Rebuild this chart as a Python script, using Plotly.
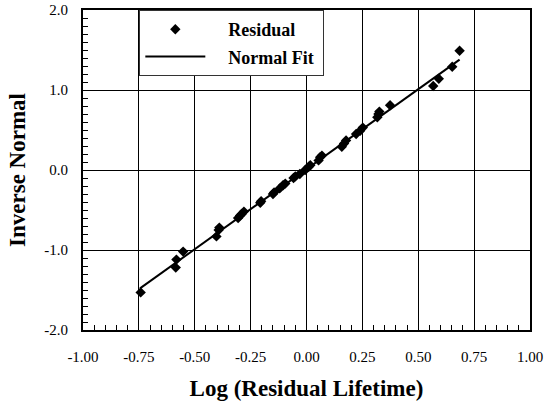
import plotly.graph_objects as go

# Residual points (log residual lifetime vs inverse normal)
log_residual = [-0.742, -0.585, -0.582, -0.552, -0.403, -0.393, -0.390, -0.306, -0.297,
                -0.290, -0.280, -0.207, -0.203, -0.150, -0.145, -0.120, -0.105, -0.095,
                -0.058, -0.050, -0.030, -0.006, 0.010, 0.017, 0.054, 0.061, 0.069,
                0.158, 0.168, 0.177, 0.222, 0.240, 0.252, 0.317, 0.322, 0.326, 0.374,
                0.567, 0.592, 0.652, 0.685]
inverse_normal = [-1.53, -1.22, -1.12, -1.02, -0.83, -0.75, -0.72, -0.60, -0.57,
                  -0.55, -0.52, -0.41, -0.39, -0.30, -0.28, -0.23, -0.19, -0.17,
                  -0.10, -0.08, -0.05, 0.00, 0.04, 0.06, 0.12, 0.16, 0.18,
                  0.29, 0.33, 0.37, 0.45, 0.49, 0.53, 0.66, 0.70, 0.73, 0.81,
                  1.05, 1.14, 1.29, 1.49]

# Normal fit line endpoints
fit_x = [-0.745, 0.685]
fit_y = [-1.48, 1.38]

x_ticks = [-1.0, -0.75, -0.5, -0.25, 0.0, 0.25, 0.5, 0.75, 1.0]
y_ticks = [-2.0, -1.0, 0.0, 1.0, 2.0]
x_ticktext = [f"{v:.2f}" for v in x_ticks]
y_ticktext = [f"{v:.1f}" for v in y_ticks]

FONT = "Liberation Serif"
NB = "\u00a0"

fig = go.Figure()
fig.add_trace(go.Scatter(
    x=log_residual, y=inverse_normal, mode="markers",
    name=NB * 4 + "Residual" + NB,
    legendgroup="a",
    marker=dict(symbol="diamond", size=8, color="black"),
))
fig.add_trace(go.Scatter(
    x=fit_x, y=fit_y, mode="lines",
    name=NB * 4 + "Normal Fit" + NB,
    legendgroup="b",
    line=dict(color="black", width=2),
))

axis_common = dict(
    showline=True, mirror=True, linecolor="black", linewidth=2,
    showgrid=True, gridcolor="black", gridwidth=1,
    zeroline=False, ticks="inside", ticklen=5, tickcolor="black",
    tickfont=dict(family=FONT, size=15, color="black"),
    automargin=False,
)

fig.update_layout(
    width=544, height=402,
    margin=dict(l=83, r=14, t=10, b=72),
    paper_bgcolor="white", plot_bgcolor="white",
    showlegend=True,
    legend=dict(
        x=0.126, y=1.0, xanchor="left", yanchor="top",
        bgcolor="white", bordercolor="#333", borderwidth=1,
        font=dict(family=FONT, size=18, color="black", weight="bold"),
        itemwidth=60, tracegroupgap=1, traceorder="grouped",
    ),
    xaxis=dict(
        range=[-1.0, 1.0], tickvals=x_ticks, ticktext=x_ticktext,
        minor=dict(dtick=0.05, ticks="inside", ticklen=5, tickcolor="black", showgrid=False),
        ticklabelstandoff=12,
        title=dict(text="Log (Residual Lifetime)", standoff=16,
                   font=dict(family=FONT, size=23, color="black", weight="bold")),
        **axis_common,
    ),
    yaxis=dict(
        range=[-2.0, 2.0], tickvals=y_ticks, ticktext=y_ticktext,
        minor=dict(dtick=0.1, ticks="inside", ticklen=5, tickcolor="black", showgrid=False),
        ticklabelstandoff=10,
        title=dict(text="Inverse Normal", standoff=12,
                   font=dict(family=FONT, size=23, color="black", weight="bold")),
        **axis_common,
    ),
)

fig.write_html("out.html")
